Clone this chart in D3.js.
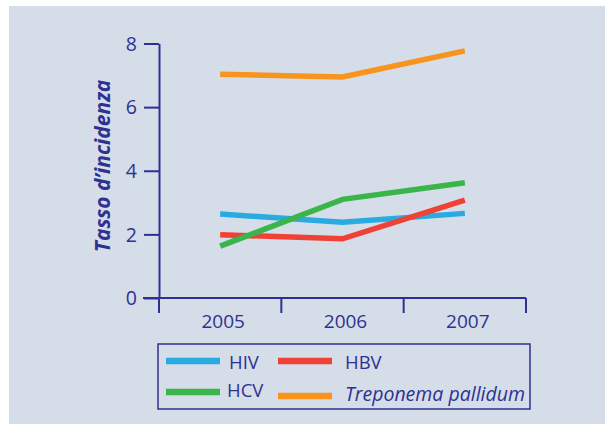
<!DOCTYPE html>
<html><head><meta charset="utf-8">
<script src="https://cdn.jsdelivr.net/npm/d3@7"></script>
<style>body{margin:0;background:#fff}svg{display:block}text{font-family:"Open Sans",sans-serif}</style>
</head><body>
<svg id="c" width="605" height="424"></svg>
<script>
const years = ["2005","2006","2007"];
const seriesNames = ["HIV","HBV","HCV","Treponema pallidum"];
const hiv = [2.64, 2.38, 2.66];
const hbv = [1.99, 1.86, 3.08];
const hcv = [1.63, 3.10, 3.62];
const treponema = [7.03, 6.95, 7.77];
const yTicks = [0, 2, 4, 6, 8];
const colors = ["#29abe2", "#ef4136", "#39b54a", "#f7941d"];
const navy = "#2e3192";

const series = [hiv, hbv, hcv, treponema].map((v, i) => ({name: seriesNames[i], values: v, color: colors[i]}));

const svg = d3.select("#c");
svg.append("rect").attr("x", 9).attr("y", 6).attr("width", 596).attr("height", 418).attr("fill", "#d5dde9");

const x = d3.scaleBand().domain(years).range([159, 526]).padding(0);
const y = d3.scaleLinear().domain([0, 8]).range([298, 43.5]);

// y axis
const ya = svg.append("g").attr("transform", "translate(159,0)")
  .call(d3.axisLeft(y).tickValues(yTicks).tickSize(15).tickPadding(7).tickSizeOuter(0));
ya.select(".domain").attr("stroke", navy).attr("stroke-width", 2);
ya.selectAll(".tick line").attr("stroke", navy).attr("stroke-width", 2);
ya.selectAll(".tick text").attr("fill", navy).attr("font-size", 19.5).attr("dy", "0.35em");

// x axis
const xa = svg.append("g").attr("transform", "translate(0,298)");
xa.append("line").attr("x1", 143).attr("x2", x.range()[1]).attr("y1", 0).attr("y2", 0).attr("stroke", navy).attr("stroke-width", 2);
const bounds = years.map(d => x(d)).concat([x.range()[1]]);
xa.selectAll("line.tk").data(bounds).join("line").attr("class", "tk")
  .attr("x1", d => d).attr("x2", d => d).attr("y1", 0).attr("y2", 15).attr("stroke", navy).attr("stroke-width", 2);
xa.selectAll("text").data(years).join("text")
  .attr("x", d => x(d) + x.bandwidth() / 2 + 3).attr("y", 30).attr("text-anchor", "middle")
  .attr("fill", navy).attr("font-size", 19).text(d => d);

// y title
svg.append("text").attr("transform", "translate(110,166) rotate(-90)")
  .attr("text-anchor", "middle").attr("fill", navy).attr("font-size", 21)
  .attr("font-weight", "bold").attr("font-style", "italic").text("Tasso d\u2019incidenza");

// lines
const line = d3.line().x((d, i) => x(years[i]) + x.bandwidth() / 2).y(d => y(d));
svg.selectAll("path.s").data(series).join("path").attr("class", "s")
  .attr("d", d => line(d.values)).attr("fill", "none").attr("stroke", d => d.color).attr("stroke-width", 5.5);

// legend
const lg = svg.append("g");
lg.append("rect").attr("x", 158).attr("y", 344).attr("width", 372).attr("height", 65)
  .attr("fill", "none").attr("stroke", navy).attr("stroke-width", 1.5);
const legendPos = [
  {lx: 166, ly: 361, tx: 229, ty: 369, italic: false},
  {lx: 278, ly: 361, tx: 345, ty: 369, italic: false},
  {lx: 166, ly: 392, tx: 227, ty: 397, italic: false},
  {lx: 278, ly: 396, tx: 345, ty: 401, italic: true}
];
series.forEach((s, i) => {
  const p = legendPos[i];
  lg.append("line").attr("x1", p.lx).attr("x2", p.lx + 54).attr("y1", p.ly).attr("y2", p.ly)
    .attr("stroke", s.color).attr("stroke-width", 6.5);
  lg.append("text").attr("x", p.tx).attr("y", p.ty).attr("fill", navy).attr("font-size", p.italic ? 19.5 : 18.5)
    .attr("font-style", p.italic ? "italic" : "normal").text(s.name);
});
</script>
</body></html>
